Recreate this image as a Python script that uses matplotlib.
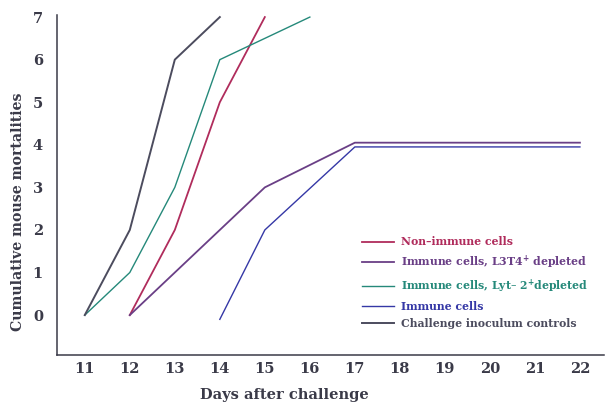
import numpy as np
import matplotlib
matplotlib.use("Agg")
import matplotlib.pyplot as plt

# ==========================================
# DATA
# ==========================================

days_controls = [11, 12, 13, 14]
controls = [0, 2, 6, 7]

days_lyt2 = [11, 12, 13, 14, 16]
lyt2_depleted = [0, 1, 3, 6, 7]

days_nonimmune = [12, 13, 14, 15]
non_immune = [0, 2, 5, 7]

days_l3t4 = [12, 15, 17, 22]
l3t4_depleted = [0, 3, 4.05, 4.05]

days_immune = [14, 15, 17, 22]
immune = [-0.1, 2, 3.95, 3.95]

x_ticks = list(range(11, 23))
y_ticks = list(range(0, 8))

labels = [
    "Non\u2013immune cells",
    "Immune cells, L3T4$^{+}$ depleted",
    "Immune cells, Lyt\u2013 2$^{+}$depleted",
    "Immune cells",
    "Challenge inoculum controls",
]

# ==========================================
# STYLE
# ==========================================

c_red = "#b02c5c"
c_purple = "#6a3f86"
c_teal = "#25897a"
c_blue = "#3538a6"
c_grey = "#4c4c5e"
text_col = "#3a3a48"

plt.rcParams["font.family"] = ["DejaVu Serif"]
plt.rcParams["font.weight"] = "bold"
plt.rcParams["axes.labelweight"] = "bold"

fig = plt.figure(figsize=(6.05, 4.04), dpi=100)
ax = fig.add_axes([0.094, 0.121, 0.904, 0.842])

# ==========================================
# PLOT
# ==========================================

l1, = ax.plot(days_nonimmune, non_immune, color=c_red, lw=1.3)
l2, = ax.plot(days_l3t4, l3t4_depleted, color=c_purple, lw=1.3)
l3, = ax.plot(days_lyt2, lyt2_depleted, color=c_teal, lw=1.0)
l4, = ax.plot(days_immune, immune, color=c_blue, lw=1.0)
l5, = ax.plot(days_controls, controls, color=c_grey, lw=1.4)

ax.set_xlim(10.38, 22.53)
ax.set_ylim(-0.94, 7.05)
ax.set_xticks(x_ticks)
ax.set_yticks(y_ticks)
ax.tick_params(length=0, labelsize=10.5, colors=text_col)
ax.tick_params(axis="y", pad=10)
ax.tick_params(axis="x", pad=5)

for s in ["top", "right"]:
    ax.spines[s].set_visible(False)
for s in ["left", "bottom"]:
    ax.spines[s].set_color(text_col)
    ax.spines[s].set_linewidth(1.1)

ax.set_xlabel("Days after challenge", fontsize=10.5, color=text_col)
ax.xaxis.set_label_coords(0.416, -0.118)
ax.xaxis.label.set_va("center")
ax.set_ylabel("Cumulative mouse mortalities", fontsize=10.2, color=text_col)
ax.yaxis.set_label_coords(-0.071, 0.42)
ax.yaxis.label.set_va("center")

leg = ax.legend(
    [l1, l2, l3, l4, l5], labels,
    loc="upper left", bbox_to_anchor=(0.548, 0.365),
    frameon=False, fontsize=7.8, handlelength=3.0,
    handletextpad=0.6, labelspacing=0.58, borderpad=0,
)
for t, c in zip(leg.get_texts(), [c_red, c_purple, c_teal, c_blue, c_grey]):
    t.set_color(c)

fig.savefig("out.png", dpi=100)
